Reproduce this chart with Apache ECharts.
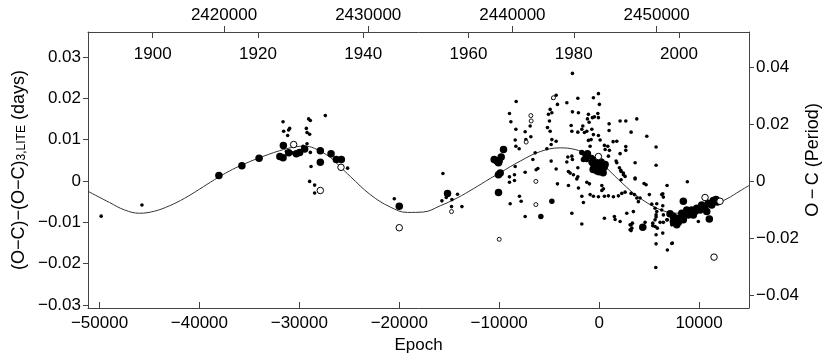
<!DOCTYPE html>
<html>
<head>
<meta charset="utf-8">
<script src="https://cdn.jsdelivr.net/npm/echarts@6/dist/echarts.min.js"></script>
<style>
  html, body { margin: 0; padding: 0; background: #fff; }
  #chart { width: 830px; height: 363px; }
</style>
</head>
<body>
<div id="chart"></div>
<script>
// tick values
const epochTicks = [-50000, -40000, -30000, -20000, -10000, 0, 10000]
const jdTicks = [2420000, 2430000, 2440000, 2450000]
const yearTicks = [1900, 1920, 1940, 1960, 1980, 2000]
const leftTicks = [-0.03, -0.02, -0.01, 0, 0.01, 0.02, 0.03]
const rightTicks = [-0.04, -0.02, 0, 0.02, 0.04]

// fitted LITE curve [epoch, O-C]
const curve = [
  [-51150, -0.0025], [-49000, -0.0052], [-47500, -0.0070], [-46000, -0.0078], [-44500, -0.0073],
  [-43000, -0.0060], [-41500, -0.0042], [-40000, -0.0020], [-38500, 0.0003], [-37000, 0.0024],
  [-35800, 0.0038], [-34100, 0.0055], [-32000, 0.0073], [-30500, 0.0082], [-29500, 0.0084],
  [-28500, 0.0079], [-26900, 0.0057], [-25900, 0.0034], [-24900, 0.0011], [-22900, -0.0033],
  [-20900, -0.0063], [-19200, -0.0076], [-17600, -0.0075], [-15900, -0.0060], [-14200, -0.0041],
  [-12600, -0.0019], [-10900, 0.0006], [-9900, 0.0020], [-7900, 0.0048], [-5900, 0.0071],
  [-3900, 0.0080], [-2400, 0.0076], [-1100, 0.0064], [-100, 0.0050], [900, 0.0028],
  [2300, -0.0005], [3900, -0.0038], [5800, -0.0066], [7100, -0.0076], [8400, -0.0078],
  [9800, -0.0070], [11400, -0.0058], [12800, -0.0043], [14100, -0.0024], [15000, -0.0011]
]

// visual minima, low weight
const smallDots = [
  [-49830, -0.0085], [-45750, -0.0058],
  [-31630, 0.0143], [-31570, 0.0120], [-31070, 0.0123], [-30970, 0.0127], [-31170, 0.0110],
  [-29300, 0.0127], [-29230, 0.0117], [-28970, 0.0113], [-29070, 0.0150], [-28900, 0.0146],
  [-27400, 0.0158], [-29630, 0.0084], [-29230, 0.0090], [-28900, 0.0069], [-28830, 0.0035],
  [-31300, 0.0071], [-30700, 0.0068], [-25170, 0.0031],
  [-28970, -0.0001], [-28470, -0.0010], [-28470, -0.0029],
  [-20500, -0.0043],
  [-15630, 0.0018], [-15730, -0.0048], [-15300, -0.0040], [-14730, -0.0045], [-14170, -0.0032], [-14770, -0.0062], [-13730, -0.0062],
  [-8970, 0.0163], [-8830, 0.0143], [-8300, 0.0192], [-8330, 0.0125], [-8400, 0.0099], [-8330, 0.0084], [-8000, 0.0078],
  [-7400, 0.0119], [-7330, 0.0100], [-6900, 0.0133], [-6830, 0.0107],
  [-8970, 0.0010], [-8970, -0.0003], [-8470, 0.0015], [-8470, 0.0001], [-8400, 0.0035], [-7400, 0.0021], [-6630, 0.0052], [-6400, 0.0068], [-6300, 0.0027], [-6130, 0.0030],
  [-7970, -0.0037], [-7800, -0.0049], [-8900, -0.0055], [-7400, -0.0086],
  [-4730, 0.0165], [-4900, 0.0173], [-5070, 0.0161], [-4970, 0.0145], [-5170, 0.0129], [-4900, 0.0120], [-4730, 0.0100], [-4800, 0.0088],
  [-4630, 0.0200], [-4300, 0.0207], [-4170, 0.0185], [-4300, 0.0096], [-4800, 0.0048], [-4300, 0.0029], [-4170, -0.0007], [-5230, 0.0078],
  [-3070, -0.0011],
  [-2670, 0.0260], [-3230, 0.0189], [-2130, 0.0200], [-570, 0.0201], [-70, 0.0211], [30, 0.0185],
  [-2670, 0.0167], [-2070, 0.0165], [-2800, 0.0134], [-2730, 0.0120], [-2130, 0.0118], [-1730, 0.0125], [-1630, 0.0133], [-1470, 0.0117], [-1230, 0.0120],
  [-1170, 0.0150], [-1070, 0.0161], [-1000, 0.0142], [-670, 0.0153], [-470, 0.0155], [-130, 0.0163], [-70, 0.0153],
  [-730, 0.0125], [-570, 0.0112], [-800, 0.0100], [-1070, 0.0098], [-70, 0.0110], [100, 0.0099], [-900, 0.0084],
  [530, 0.0086], [600, 0.0076], [870, 0.0084], [1030, 0.0074], [930, 0.0060], [1000, 0.0138], [1000, 0.0122], [1400, 0.0095],
  [1770, 0.0096], [2100, 0.0145], [2670, 0.0145], [3770, 0.0150], [2670, 0.0083], [2670, 0.0074], [2100, 0.0066], [3200, 0.0118], [3600, 0.0044], [3600, 0.0007],
  [-3130, 0.0058], [-3230, 0.0046], [-2730, 0.0060], [-2670, 0.0052], [-3070, 0.0023], [-2900, 0.0019], [-2570, 0.0015], [-2130, 0.0032], [-2130, 0.0010], [-2230, 0.0005],
  [-2070, -0.0017], [-1230, -0.0003], [-970, -0.0007],
  [270, -0.0011], [430, -0.0019], [270, -0.0023],
  [-900, -0.0033], [-570, -0.0037], [-70, -0.0038], [530, -0.0037], [930, -0.0036], [1430, -0.0038], [1930, -0.0036], [2270, -0.0030], [2600, -0.0027], [3200, -0.0030], [3530, -0.0033],
  [-1730, -0.0037], [-1570, -0.0052], [-2730, -0.0078], [-1730, -0.0104],
  [530, -0.0090], [1530, -0.0086], [1600, -0.0093], [2100, -0.0098], [2770, -0.0078], [3200, -0.0106], [3330, -0.0102], [3270, -0.0114], [3200, -0.0120],
  [2430, 0.0019], [2600, 0.0011], [2200, 0.0023], [1700, 0.0048], [2200, 0.0003],
  [3770, -0.0041], [4100, -0.0041], [3930, -0.0050],
  [4700, -0.0009], [5030, -0.0033], [4600, -0.0100], [5370, -0.0102], [5600, -0.0094], [5600, -0.0110], [5700, -0.0087], [6100, -0.0100], [5830, -0.0114], [5700, -0.0130], [5700, -0.0152], [5670, -0.0209],
  [6270, -0.0033], [6370, -0.0060], [6800, -0.0011], [6830, -0.0167], [7330, -0.0150], [6770, -0.0094], [6430, -0.0100], [9930, -0.0098],
  [4770, 0.0108], [5700, 0.0082], [5700, 0.0038], [1770, 0.0044], [2030, 0.0032], [2170, 0.0026], [2430, 0.0015],
  [8830, -0.0002], [3600, 0.0005], [4500, -0.0006], [6370, -0.0031], [6430, -0.0039], [5770, -0.0055], [5270, -0.0056], [5600, -0.0066], [5770, -0.0074], [5700, -0.0082],
  [6270, -0.0070], [6430, -0.0082], [3430, -0.0074], [3100, -0.0118], [3100, -0.0106], [7270, -0.0106], [6930, -0.0082], [6830, -0.0094], [6370, -0.0126], [7270, -0.0151], [5370, -0.0108]
]

const mediumDots = [
  [-4730, -0.0049], [-5830, -0.0086], [-1730, 0.0069], [-1400, 0.0061], [-1230, 0.0052],
  [-1570, 0.0052], [-1070, 0.0060], [-730, 0.0057]
]

// high weight minima
const bigDots = [
  [-38050, 0.0013], [-35750, 0.0037], [-34030, 0.0055], [-31950, 0.0059], [-31600, 0.0086], [-31630, 0.0056],
  [-31070, 0.0068], [-29970, 0.0069], [-29470, 0.0077], [-27900, 0.0073], [-27900, 0.0045], [-26830, 0.0066],
  [-26300, 0.0052], [-25800, 0.0052], [-30300, 0.0066],
  [-20000, -0.0061], [-15170, -0.0030],
  [-9570, 0.0076], [-9800, 0.0058], [-10000, 0.0049], [-10230, 0.0048], [-10500, 0.0052], [-10070, 0.0044],
  [-9900, 0.0019], [-10070, 0.0015], [-10070, -0.0028],
  [-1170, 0.0066], [-700, 0.0045], [-500, 0.0038], [-300, 0.0030], [-100, 0.0042], [100, 0.0036], [300, 0.0028],
  [-200, 0.0024], [200, 0.0046], [500, 0.0033], [600, 0.0040], [-400, 0.0050], [0, 0.0022], [400, 0.0020], [-600, 0.0028],
  [4370, -0.0112],
  [7100, -0.0079], [7430, -0.0086], [7430, -0.0098], [7930, -0.0090], [7930, -0.0100], [8430, -0.0094], [8430, -0.0082],
  [8930, -0.0082], [8770, -0.0070], [9270, -0.0070], [9430, -0.0082], [9770, -0.0066], [10100, -0.0070], [10270, -0.0058],
  [10600, -0.0062], [10930, -0.0054], [11270, -0.0058], [11430, -0.0047], [11700, -0.0045], [11830, -0.0051],
  [7770, -0.0106], [8100, -0.0090], [8270, -0.0078], [9600, -0.0074], [10770, -0.0074], [8430, -0.0049], [11030, -0.0092]
]

const openBig = [
  [-30570, 0.0088], [-25830, 0.0033], [-27900, -0.0023], [-20000, -0.0113],
  [-70, 0.0059], [10600, -0.0040], [12100, -0.0049], [11500, -0.0184]
]

const openSmall = [
  [-14770, -0.0074], [-10000, -0.0141], [-6830, 0.0158], [-6800, 0.0145],
  [-7300, 0.0094], [-6330, -0.0001], [-6330, -0.0057], [-4570, 0.0201]
]

const frameColor = '#444'
const fontFamily = 'Liberation Sans, Arial, sans-serif'

function minus(s) {
  return s.replace('-', '\u2212')
}
function fmtVal(v) {
  if (Math.abs(v) < 1e-9) return '0'
  return minus(v.toFixed(2))
}

const chart = echarts.init(document.getElementById('chart'))

const labelStyle = { color: '#000', fontSize: 17, fontFamily: fontFamily }
const filled = { color: '#000', opacity: 1 }
const hollow = { color: '#fff', borderColor: '#000', borderWidth: 1, opacity: 1 }

chart.setOption({
  animation: false,
  grid: { left: 88, right: 81, top: 32, bottom: 55, containLabel: false },
  xAxis: [
    {
      type: 'value', position: 'bottom', min: -51150, max: 15000,
      name: 'Epoch', nameLocation: 'middle', nameGap: 25,
      nameTextStyle: labelStyle,
      axisLine: { show: true, onZero: false, lineStyle: { color: frameColor, width: 1 } },
      axisTick: { show: true, inside: true, length: 6, customValues: epochTicks, lineStyle: { color: frameColor } },
      axisLabel: { ...labelStyle, margin: 7, customValues: epochTicks, formatter: v => minus(String(v)) },
      splitLine: { show: false }
    },
    {
      type: 'value', position: 'top', min: 2410571, max: 2456400,
      axisLine: { show: true, onZero: false, lineStyle: { color: frameColor, width: 1 } },
      axisTick: { show: true, inside: false, length: 6, customValues: jdTicks, lineStyle: { color: frameColor } },
      axisLabel: { ...labelStyle, margin: 8, customValues: jdTicks, formatter: v => String(v) },
      splitLine: { show: false }
    },
    {
      type: 'value', position: 'top', min: 1887.7, max: 2013.3,
      axisLine: { show: false, onZero: false },
      axisTick: { show: true, inside: true, length: 6, customValues: yearTicks, lineStyle: { color: frameColor } },
      axisLabel: { ...labelStyle, inside: true, margin: 14, customValues: yearTicks, formatter: v => String(v) },
      splitLine: { show: false }
    }
  ],
  yAxis: [
    {
      type: 'value', position: 'left', min: -0.0307, max: 0.036,
      axisLine: { show: true, onZero: false, lineStyle: { color: frameColor, width: 1 } },
      axisTick: { show: true, inside: false, length: 5, customValues: leftTicks, lineStyle: { color: frameColor } },
      axisLabel: { ...labelStyle, margin: 7, customValues: leftTicks, formatter: fmtVal },
      splitLine: { show: false }
    },
    {
      type: 'value', position: 'right', min: -0.0445, max: 0.0522,
      axisLine: { show: true, onZero: false, lineStyle: { color: frameColor, width: 1 } },
      axisTick: { show: true, inside: false, length: 5, customValues: rightTicks, lineStyle: { color: frameColor } },
      axisLabel: { ...labelStyle, margin: 7, customValues: rightTicks, formatter: fmtVal },
      splitLine: { show: false }
    }
  ],
  graphic: [
    {
      type: 'text', x: 19, y: 170, rotation: Math.PI / 2,
      style: {
        text: '{m|(O\u2212C)\u2212(O\u2212C)}{s|3,LITE}{m| (days)}',
        align: 'center', verticalAlign: 'middle',
        rich: {
          m: { fontSize: 18, fontFamily: fontFamily, lineHeight: 18, verticalAlign: 'top', fill: '#000' },
          s: { fontSize: 12, fontFamily: fontFamily, lineHeight: 12, padding: [11, 0, 0, 0], verticalAlign: 'bottom', fill: '#000' }
        }
      }
    },
    {
      type: 'text', x: 813, y: 160, rotation: Math.PI / 2,
      style: {
        text: 'O\u2009\u2212\u2009C (Period)', fontSize: 18, fontFamily: fontFamily, fill: '#000',
        align: 'center', verticalAlign: 'middle'
      }
    }
  ],
  series: [
    {
      type: 'line', data: curve, smooth: 0.4, showSymbol: false, silent: true,
      lineStyle: { color: '#333', width: 1 }, z: 1
    },
    { type: 'scatter', data: smallDots, symbolSize: 3.6, itemStyle: filled, z: 2 },
    { type: 'scatter', data: mediumDots, symbolSize: 5.5, itemStyle: filled, z: 2 },
    { type: 'scatter', data: bigDots, symbolSize: 7.5, itemStyle: filled, z: 2 },
    { type: 'scatter', data: openBig, symbolSize: 6.5, itemStyle: hollow, z: 3 },
    { type: 'scatter', data: openSmall, symbolSize: 4, itemStyle: { ...hollow, borderWidth: 0.9 }, z: 3 }
  ]
})
</script>
</body>
</html>
